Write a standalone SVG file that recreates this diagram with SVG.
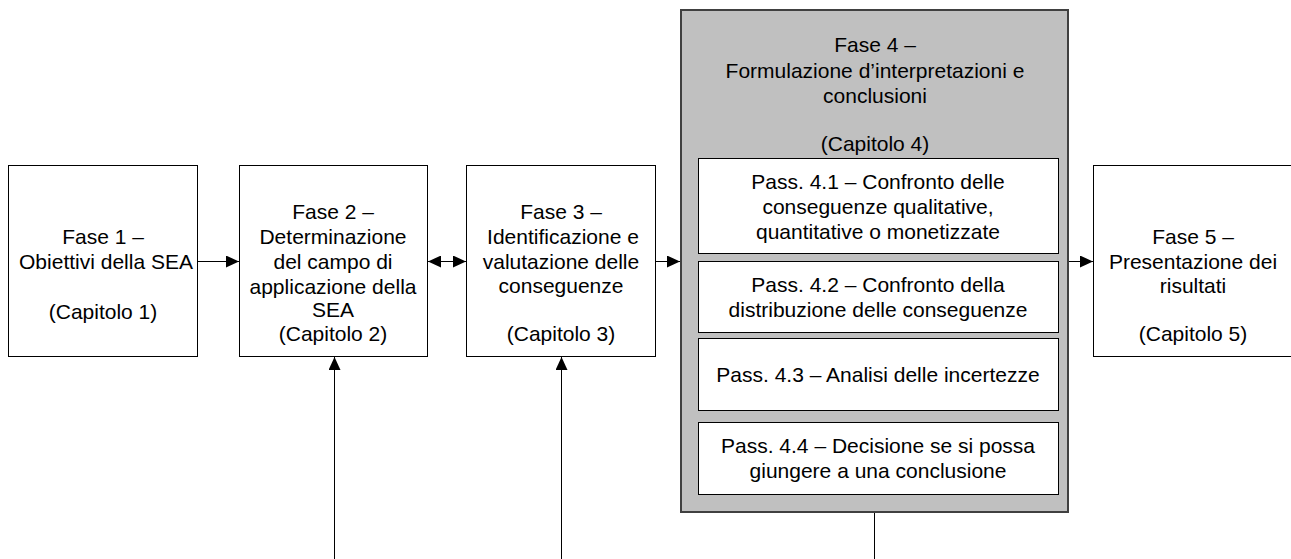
<svg xmlns="http://www.w3.org/2000/svg" width="1291" height="559" viewBox="0 0 1291 559">
<style>
.box{fill:#fff;stroke:#000;stroke-width:1}
.outer{fill:#c0c0c0;stroke:#404040;stroke-width:2}
.t{font-family:"Liberation Sans",Arial,sans-serif;font-size:21px;fill:#000;text-anchor:middle}
.c{stroke:#000;stroke-width:1;fill:none}
</style>
<defs>
<marker id="ah" markerUnits="userSpaceOnUse" markerWidth="14" markerHeight="12" refX="13" refY="6" orient="auto-start-reverse">
<path d="M0,0 L13,6 L0,12 Z" fill="#000"/>
</marker>
</defs>
<rect width="1291" height="559" fill="#fff"/>
<g id="fase1">
<rect class="box" x="8.5" y="165.5" width="189" height="191"/>
<text class="t" x="103" y="244">Fase 1 –</text>
<text class="t" x="106" y="269">Obiettivi della SEA</text>
<text class="t" x="103" y="319">(Capitolo 1)</text>
</g>
<g id="fase2">
<rect class="box" x="239.5" y="165.5" width="188" height="191"/>
<text class="t" x="333" y="219">Fase 2 –</text>
<text class="t" x="333" y="244">Determinazione</text>
<text class="t" x="333" y="269">del campo di</text>
<text class="t" x="333" y="294">applicazione della</text>
<text class="t" x="333" y="317">SEA</text>
<text class="t" x="333" y="341">(Capitolo 2)</text>
</g>
<g id="fase3">
<rect class="box" x="466.5" y="165.5" width="189" height="191"/>
<text class="t" x="561" y="219">Fase 3 –</text>
<text class="t" x="563" y="244">Identificazione e</text>
<text class="t" x="561" y="269">valutazione delle</text>
<text class="t" x="561" y="293">conseguenze</text>
<text class="t" x="561" y="341">(Capitolo 3)</text>
</g>
<g id="fase4">
<rect class="outer" x="681" y="10" width="387" height="502"/>
<text class="t" x="875" y="52">Fase 4 –</text>
<text class="t" x="875" y="78">Formulazione d’interpretazioni e</text>
<text class="t" x="875" y="103">conclusioni</text>
<text class="t" x="875" y="151">(Capitolo 4)</text>
</g>
<g id="pass41">
<rect class="box" x="698.5" y="158.5" width="360" height="95"/>
<text class="t" x="878" y="189">Pass. 4.1 – Confronto delle</text>
<text class="t" x="878" y="214">conseguenze qualitative,</text>
<text class="t" x="878" y="239">quantitative o monetizzate</text>
</g>
<g id="pass42">
<rect class="box" x="698.5" y="261.5" width="360" height="71"/>
<text class="t" x="878" y="292">Pass. 4.2 – Confronto della</text>
<text class="t" x="878" y="317">distribuzione delle conseguenze</text>
</g>
<g id="pass43">
<rect class="box" x="698.5" y="338.5" width="360" height="72"/>
<text class="t" x="878" y="382">Pass. 4.3 – Analisi delle incertezze</text>
</g>
<g id="pass44">
<rect class="box" x="698.5" y="422.5" width="360" height="72"/>
<text class="t" x="878" y="453">Pass. 4.4 – Decisione se si possa</text>
<text class="t" x="878" y="478">giungere a una conclusione</text>
</g>
<g id="fase5">
<rect class="box" x="1093.5" y="165.5" width="210" height="191"/>
<text class="t" x="1193" y="244">Fase 5 –</text>
<text class="t" x="1193" y="269">Presentazione dei</text>
<text class="t" x="1193" y="293">risultati</text>
<text class="t" x="1193" y="341">(Capitolo 5)</text>
</g>
<g id="connectors">
<line class="c" x1="198" y1="261.5" x2="239" y2="261.5" marker-end="url(#ah)"/>
<line class="c" x1="428" y1="261.5" x2="466" y2="261.5" marker-start="url(#ah)" marker-end="url(#ah)"/>
<line class="c" x1="656" y1="261.5" x2="680" y2="261.5" marker-end="url(#ah)"/>
<line class="c" x1="1069" y1="261.5" x2="1093" y2="261.5" marker-end="url(#ah)"/>
<line class="c" x1="334.5" y1="559" x2="334.5" y2="357" marker-end="url(#ah)"/>
<line class="c" x1="561.5" y1="559" x2="561.5" y2="357" marker-end="url(#ah)"/>
<line class="c" x1="874.5" y1="513" x2="874.5" y2="559"/>
</g>
</svg>
